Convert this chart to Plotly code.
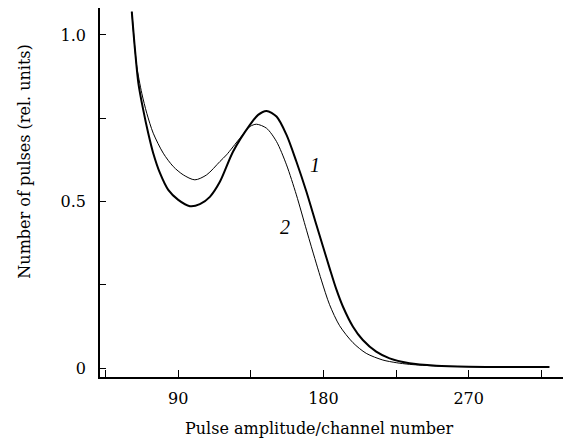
import plotly.graph_objects as go

# Curve 1 (thick)
x1 = [61.2, 63.2, 65.3, 68.3, 71.4, 74.5, 78.7, 83.8, 90, 97.2, 103.4, 109.6, 115.8, 124.0,
      134.4, 139.5, 144.7, 150.9, 157.1, 163.2, 169.4, 175.6, 179.7, 183.8, 188.0, 192.1,
      198.3, 204.4, 212.7, 221.0, 233.3, 250, 270, 290, 320]
y1 = [1.070, 0.955, 0.855, 0.775, 0.705, 0.645, 0.585, 0.535, 0.505, 0.486, 0.492, 0.514, 0.559, 0.65,
      0.73, 0.76, 0.772, 0.755, 0.70, 0.62, 0.53, 0.43, 0.365, 0.30, 0.236, 0.184,
      0.124, 0.084, 0.049, 0.029, 0.014, 0.007, 0.004, 0.003, 0.003]

# Curve 2 (thin)
x2 = [61.2, 63.2, 64.3, 67.4, 70.5, 74.5, 80.7, 86.9, 93.1, 100.3, 107.6, 115.8, 119.9, 128.2,
      134.4, 138.5, 144.7, 150.9, 157.1, 163.2, 169.5, 172.5, 178.7, 183.8, 190.0, 198.3,
      206.5, 216.8, 225.1, 233.3, 250, 270, 290, 320]
y2 = [1.070, 0.955, 0.905, 0.825, 0.765, 0.705, 0.645, 0.605, 0.58, 0.565, 0.58, 0.62, 0.64, 0.69,
      0.725, 0.732, 0.72, 0.68, 0.61, 0.52, 0.414, 0.364, 0.264, 0.19, 0.127, 0.076,
      0.044, 0.024, 0.016, 0.011, 0.006, 0.004, 0.003, 0.003]

x_tickvals = [45, 90, 135, 180, 225, 270, 315]
x_ticktext = ["", "90", "", "180", "", "270", ""]
y_tickvals = [0, 0.25, 0.5, 0.75, 1.0]
y_ticktext = ["0", "", "0.5", "", "1.0"]

FONT = "DejaVu Serif"
LABEL_FONT = "Liberation Serif"

fig = go.Figure()
fig.add_trace(go.Scatter(x=x2, y=y2, mode="lines",
                         line=dict(color="black", width=1, shape="spline", smoothing=0.8)))
fig.add_trace(go.Scatter(x=x1, y=y1, mode="lines",
                         line=dict(color="black", width=2, shape="spline", smoothing=0.8)))

fig.update_layout(
    width=563, height=433,
    margin=dict(l=92, r=1, t=0, b=64),
    paper_bgcolor="white", plot_bgcolor="white",
    showlegend=False,
    font=dict(family=FONT, size=16, color="black"),
    xaxis=dict(range=[41.5, 332.8], showgrid=False, zeroline=False, showline=True,
               linecolor="black", linewidth=1.5, ticks="inside", ticklen=7, tickwidth=1,
               tickcolor="black", tickvals=x_tickvals, ticktext=x_ticktext,
               ticklabelstandoff=6),
    yaxis=dict(range=[-0.027, 1.081], showgrid=False, zeroline=False, showline=True,
               linecolor="black", linewidth=1.5, ticks="inside", ticklen=6, tickwidth=1,
               tickcolor="black", tickvals=y_tickvals, ticktext=y_ticktext,
               ticklabelstandoff=9),
    annotations=[
        dict(text="Pulse amplitude/channel number", xref="paper", yref="paper",
             x=0.466, y=-0.14, xanchor="center", yanchor="middle", showarrow=False,
             font=dict(family=FONT, size=16)),
        dict(text="Number of pulses (rel. units)", xref="paper", yref="paper",
             x=-0.16, y=0.583, xanchor="center", yanchor="middle", textangle=-90,
             showarrow=False, font=dict(family=FONT, size=16)),
        dict(text="<i>1</i>", x=174.7, y=0.61, xref="x", yref="y", showarrow=False,
             font=dict(family=LABEL_FONT, size=20)),
        dict(text="<i>2</i>", x=156.1, y=0.424, xref="x", yref="y", showarrow=False,
             font=dict(family=LABEL_FONT, size=20)),
    ],
)

fig.write_html("out.html")
